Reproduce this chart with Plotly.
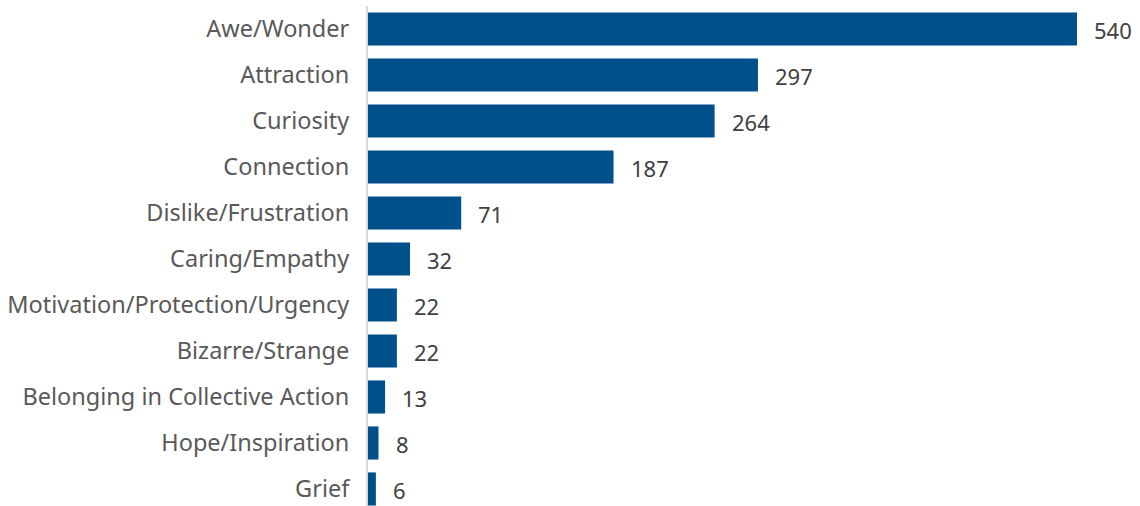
import plotly.graph_objects as go

categories = ["Awe/Wonder", "Attraction", "Curiosity", "Connection", "Dislike/Frustration",
              "Caring/Empathy", "Motivation/Protection/Urgency", "Bizarre/Strange",
              "Belonging in Collective Action", "Hope/Inspiration", "Grief"]
values = [540, 297, 264, 187, 71, 32, 22, 22, 13, 8, 6]

BAR = "#00508C"
LABEL = "#595959"
NUM = "#404040"
FONT = "Noto Sans"

fig = go.Figure(go.Bar(
    x=values, y=categories, orientation="h",
    marker=dict(color=BAR, line=dict(width=0)),
    width=0.72,
))

for c, v in zip(categories, values):
    fig.add_annotation(x=v, y=c, text=str(v), showarrow=False, xanchor="left",
                       xshift=15, yshift=-1, font=dict(family=FONT, size=22, color=NUM))

fig.update_layout(
    width=1140, height=506,
    margin=dict(l=368, r=0, t=6, b=0),
    plot_bgcolor="white", paper_bgcolor="white",
    showlegend=False,
    font=dict(family=FONT, size=23, color=LABEL),
    xaxis=dict(range=[0, 588], visible=False, showgrid=False, zeroline=False),
    yaxis=dict(range=[10.37, -0.5], showgrid=False, zeroline=False,
               showline=True, linecolor="#D9D9D9", linewidth=2,
               ticks="", ticklabelstandoff=12,
               tickfont=dict(family=FONT, size=23.5, color=LABEL)),
)

fig.write_html("out.html")
